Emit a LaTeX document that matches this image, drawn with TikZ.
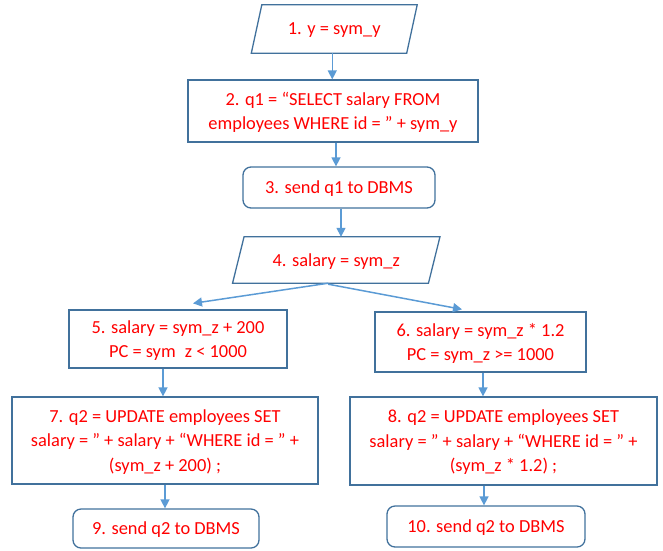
\documentclass[tikz,border=0pt]{standalone}
\usepackage{fontspec}
\setmainfont{Carlito}
\usetikzlibrary{arrows.meta,calc}
\definecolor{edgeblue}{HTML}{41719C}
\definecolor{arrblue}{HTML}{5B9BD5}
\definecolor{txtred}{HTML}{FF0000}
\begin{document}
\begin{tikzpicture}[x=1pt,y=-1pt,
  every node/.style={inner sep=2pt,align=center,text=txtred,text depth=0pt,
    font=\fontsize{18.4}{24.5}\selectfont},
  box/.style={draw=edgeblue,line width=1.3pt,rectangle},
  rbox/.style={box,rounded corners=8pt},
  para/.style={draw=none,rectangle},
  arr/.style={draw=arrblue,line width=1.5pt,-{Triangle[length=9pt,width=9pt]}},
  pline/.style={draw=edgeblue,line width=1.3pt,line join=miter}]
\useasboundingbox (0,0) rectangle (663,550);

\node[para,minimum width=155pt,minimum height=48pt] (p1) at (334.25,29) {1. y = sym\_y};
\node[box,minimum width=290pt,minimum height=62pt] (n2) at (333,111)
  {2. q1 = “SELECT salary FROM\\employees WHERE id = ” + sym\_y};
\node[rbox,minimum width=192pt,minimum height=41pt] (n3) at (339,187.5) {3. send q1 to DBMS};
\node[para,minimum width=195.5pt,minimum height=46pt] (p4) at (336.25,260) {4. salary = sym\_z};
\node[box,minimum width=218pt,minimum height=58pt] (n5) at (178,339)
  {5. salary = sym\_z + 200\\PC = sym\phantom{\_}z < 1000};
\node[box,minimum width=211pt,minimum height=60pt] (n6) at (480.5,342)
  {6. salary = sym\_z * 1.2\\PC = sym\_z >= 1000};
\node[box,minimum width=306pt,minimum height=87pt] (n7) at (165,440.5)
  {7. q2 = UPDATE employees SET\\salary = ” + salary + “WHERE id = ” +\\(sym\_z + 200) ;};
\node[box,minimum width=307pt,minimum height=88pt] (n8) at (503.5,441)
  {8. q2 = UPDATE employees SET\\salary = ” + salary + “WHERE id = ” +\\(sym\_z * 1.2) ;};
\node[rbox,minimum width=186pt,minimum height=39pt] (n9) at (166,528.5) {9. send q2 to DBMS};
\node[rbox,minimum width=198pt,minimum height=41pt] (n10) at (486,526.5) {10. send q2 to DBMS};

% parallelograms
\draw[pline] ([xshift=5.25pt]p1.north west) -- ([xshift=5.25pt]p1.north east)
  -- ([xshift=-5.25pt]p1.south east) -- ([xshift=-5.25pt]p1.south west) -- cycle;
\draw[pline] ([xshift=5.75pt]p4.north west) -- ([xshift=5.75pt]p4.north east)
  -- ([xshift=-5.75pt]p4.south east) -- ([xshift=-5.75pt]p4.south west) -- cycle;

% connectors
\draw[arr] ([xshift=-2pt]p1.south) -- ([xshift=-2pt]p1.south |- n2.north);
\draw[arr] ([xshift=3pt]n2.south) -- ([xshift=3pt]n2.south |- n3.north);
\draw[arr] ([xshift=2pt]n3.south) -- ([xshift=2pt]n3.south |- p4.north);
\draw[arr] ([xshift=-8pt]p4.south) -- ([xshift=15pt,yshift=6pt]n5.north);
\draw[arr] ([xshift=-8pt,yshift=-1pt]p4.south) -- ([xshift=-18.5pt,yshift=2pt]n6.north);
\draw[arr] ([xshift=-15pt]n5.south) -- ([xshift=-15pt]n5.south |- n7.north);
\draw[arr] (n6.south) ++(2.5pt,0) coordinate (c6) -- (c6 |- n8.north);
\draw[arr] (n7.south) -- (n7.south |- n9.north);
\draw[arr] ([xshift=-2pt]n10.north |- n8.south) -- ([xshift=-2pt]n10.north);
\end{tikzpicture}
\end{document}
